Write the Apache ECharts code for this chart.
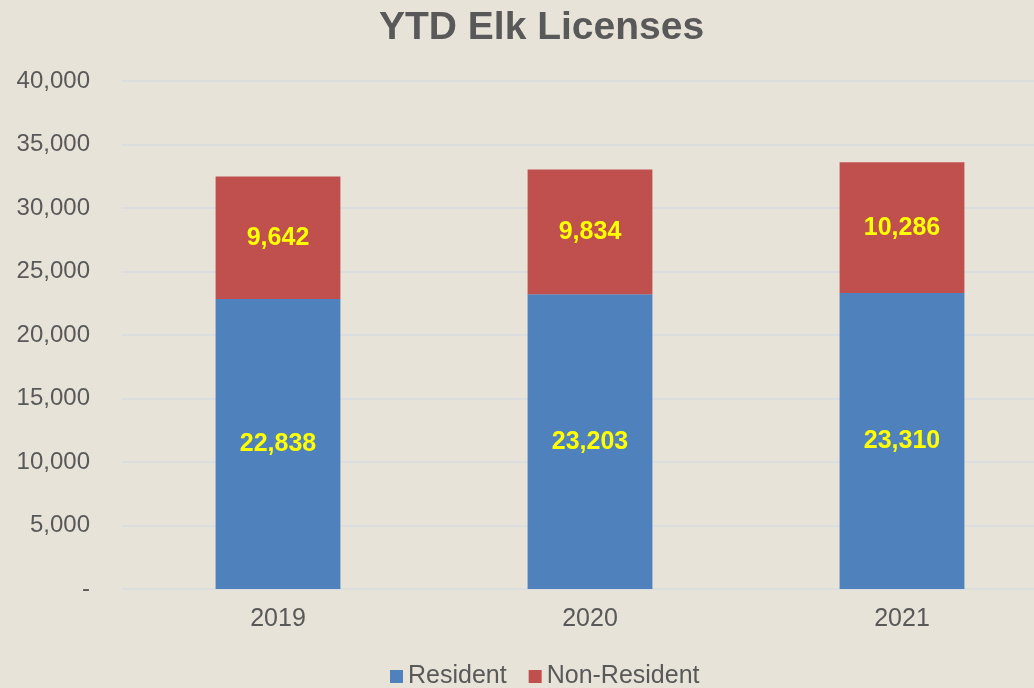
<!DOCTYPE html>
<html>
<head>
<meta charset="utf-8">
<script src="https://cdn.jsdelivr.net/npm/echarts@6/dist/echarts.min.js"></script>
<style>
  html, body { margin: 0; padding: 0; overflow: hidden; width: 1034px; height: 688px; background: #e7e3d9; }
  /* plot area runs past the right edge in the original, so the canvas is a bit wider */
  #main { width: 1058px; height: 688px; }
</style>
</head>
<body>
<div id="main"></div>
<script>
// chart data
var years = ['2019', '2020', '2021'];
var resident = [22838, 23203, 23310];
var nonResident = [9642, 9834, 10286];

var chart = echarts.init(document.getElementById('main'));

var labelStyle = {
  show: true,
  color: '#ffff00',
  fontWeight: 'bold',
  fontSize: 25,
  fontFamily: 'Liberation Sans',
  formatter: function (p) { return p.value.toLocaleString('en-US'); }
};

var option = {
  backgroundColor: '#e7e3d9',
  title: {
    text: 'YTD Elk Licenses',
    left: 374,
    top: 4,
    textStyle: { color: '#595959', fontSize: 39, fontWeight: 'bold', fontFamily: 'Liberation Sans' }
  },
  legend: {
    top: 659,
    left: 385,
    itemWidth: 13,
    itemHeight: 13,
    itemGap: 22,
    icon: 'rect',
    textStyle: { color: '#595959', fontSize: 25, fontFamily: 'Liberation Sans' },
    data: ['Resident', 'Non-Resident']
  },
  grid: { left: 122, top: 81, width: 936, height: 508 },
  xAxis: {
    type: 'category',
    data: years,
    axisLine: { show: false },
    axisTick: { show: false },
    axisLabel: { color: '#595959', fontSize: 25, margin: 18, fontFamily: 'Liberation Sans' }
  },
  yAxis: {
    type: 'value',
    min: 0,
    max: 40000,
    interval: 5000,
    splitLine: { lineStyle: { color: '#d8dbdf', width: 1.5 } },
    axisLabel: {
      color: '#595959',
      fontSize: 24,
      margin: 32,
      fontFamily: 'Liberation Sans',
      formatter: function (v) { return v === 0 ? '-' : v.toLocaleString('en-US'); }
    }
  },
  series: [
    {
      name: 'Resident',
      type: 'bar',
      stack: 'total',
      barWidth: '40%',
      itemStyle: { color: '#4f81bd' },
      label: labelStyle,
      data: resident
    },
    {
      name: 'Non-Resident',
      type: 'bar',
      stack: 'total',
      barWidth: '40%',
      itemStyle: { color: '#c0504d' },
      label: labelStyle,
      data: nonResident
    }
  ]
};

chart.setOption(option);
</script>
</body>
</html>
